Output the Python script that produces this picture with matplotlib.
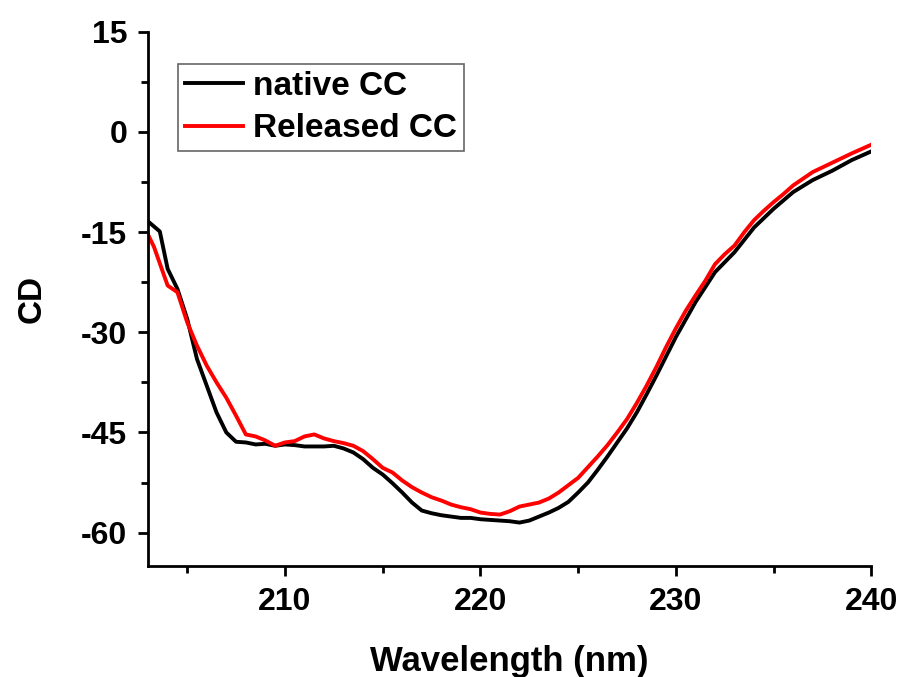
import matplotlib
matplotlib.use("Agg")
import matplotlib.pyplot as plt
from matplotlib.ticker import MultipleLocator

plt.rcParams["axes.unicode_minus"] = False

# CD spectra
wl_native = [203.0, 203.6, 204.0, 204.5, 205.0, 205.5, 206.0, 206.5, 207.0, 207.5,
             208.0, 208.5, 209.0, 209.5, 210.0, 210.5, 211.0, 212.0, 212.5, 213.0,
             213.5, 214.0, 214.5, 215.0, 215.5, 216.0, 216.5, 217.0, 217.5, 218.0,
             218.5, 219.0, 219.5, 220.0, 220.5, 221.0, 221.5, 222.0, 222.5, 223.0,
             223.5, 224.0, 224.5, 225.0, 225.5, 226.0, 226.5, 227.0, 227.5, 228.0,
             228.5, 229.0, 229.5, 230.0, 231.0, 232.0, 233.0, 234.0, 235.0, 236.0,
             237.0, 238.0, 239.0, 240.0]
cd_native = [-13.4, -14.9, -20.5, -23.5, -28.0, -34.0, -38.0, -42.0, -45.0, -46.4,
             -46.5, -46.8, -46.7, -47.0, -46.8, -46.9, -47.1, -47.1, -47.0, -47.4,
             -48.0, -49.0, -50.3, -51.3, -52.6, -54.0, -55.5, -56.7, -57.1, -57.4,
             -57.6, -57.8, -57.8, -58.0, -58.1, -58.2, -58.3, -58.5, -58.2, -57.6,
             -57.0, -56.3, -55.4, -54.0, -52.5, -50.6, -48.6, -46.5, -44.4, -42.0,
             -39.3, -36.5, -33.6, -30.7, -25.5, -21.0, -18.0, -14.3, -11.5, -9.0,
             -7.2, -5.8, -4.2, -2.9]

wl_released = [203.0, 203.3, 204.0, 204.5, 205.0, 205.5, 206.0, 206.5, 207.0, 207.5,
               208.0, 208.5, 209.0, 209.5, 210.0, 210.5, 211.0, 211.5, 212.0, 212.5,
               213.0, 213.5, 214.0, 214.5, 215.0, 215.5, 216.0, 216.5, 217.0, 217.5,
               218.0, 218.5, 219.0, 219.5, 220.0, 220.5, 221.0, 221.5, 222.0, 222.5,
               223.0, 223.5, 224.0, 224.5, 225.0, 225.5, 226.0, 226.5, 227.0, 227.5,
               228.0, 228.5, 229.0, 229.5, 230.0, 230.5, 231.0, 231.5, 232.0, 232.5,
               233.0, 233.5, 234.0, 234.5, 235.0, 235.5, 236.0, 237.0, 238.0, 239.0,
               240.0]
cd_released = [-15.4, -17.2, -23.0, -24.0, -28.5, -32.0, -35.0, -37.5, -39.8, -42.5,
               -45.3, -45.6, -46.2, -47.0, -46.5, -46.3, -45.6, -45.3, -45.9, -46.3,
               -46.6, -47.0, -47.8, -49.0, -50.3, -51.0, -52.2, -53.2, -54.0, -54.7,
               -55.2, -55.8, -56.2, -56.5, -57.0, -57.2, -57.3, -56.8, -56.1, -55.8,
               -55.5, -54.9, -54.0, -52.9, -51.8, -50.2, -48.6, -46.9, -45.0, -43.0,
               -40.6, -38.0, -35.2, -32.2, -29.4, -26.8, -24.5, -22.3, -19.8, -18.3,
               -17.0, -15.0, -13.2, -11.8, -10.5, -9.3, -8.0, -6.0, -4.6, -3.2,
               -1.9]

fam = ["Liberation Sans", "DejaVu Sans"]

fig = plt.figure(figsize=(9.03, 6.77), dpi=100)
ax = fig.add_axes([0.164, 0.164, 0.801, 0.789])

ax.plot(wl_native, cd_native, color="black", lw=2.8, label="native CC")
ax.plot(wl_released, cd_released, color="#ff0000", lw=2.8, label="Released CC")

ax.set_xlim(203, 240)
ax.set_ylim(-65, 15)
ax.xaxis.set_major_locator(MultipleLocator(10))
ax.xaxis.set_minor_locator(MultipleLocator(5))
ax.yaxis.set_major_locator(MultipleLocator(15))
ax.yaxis.set_minor_locator(MultipleLocator(7.5))

for sp in ("top", "right"):
    ax.spines[sp].set_visible(False)
for sp in ("left", "bottom"):
    ax.spines[sp].set_linewidth(2)
    ax.spines[sp].set_clip_on(False)

ax.tick_params(which="major", direction="out", length=7, width=2, pad=8)
ax.tick_params(which="minor", direction="out", length=5, width=2)
for lab in ax.get_xticklabels() + ax.get_yticklabels():
    lab.set_family(fam)
    lab.set_fontweight("bold")
    lab.set_fontsize(23)

ax.set_xlabel("Wavelength (nm)", family=fam, fontweight="bold", fontsize=25, labelpad=20)
ax.set_ylabel("CD", family=fam, fontweight="bold", fontsize=24, labelpad=24)

leg = ax.legend(loc="upper left", bbox_to_anchor=(0.042, 0.94), frameon=True, fancybox=False,
                edgecolor="0.25", handlelength=1.75, handletextpad=0.3, borderpad=0.2,
                labelspacing=0.35, borderaxespad=0,
                prop={"family": fam, "weight": "bold", "size": 24})
leg.get_frame().set_linewidth(1.2)

fig.savefig("out.png", dpi=100)
